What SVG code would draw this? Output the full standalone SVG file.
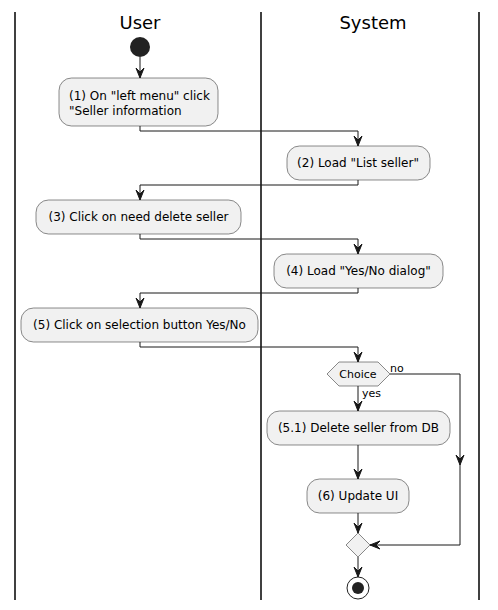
<svg xmlns="http://www.w3.org/2000/svg" width="498" height="610" viewBox="0 0 498 610">
<defs>
<style>
.lane{stroke:#000;stroke-width:1.5;fill:none}
.title{font-family:"DejaVu Sans",sans-serif;font-size:18px;fill:#000;text-anchor:middle}
.act rect{fill:#F1F1F1;stroke:#181818;stroke-width:0.5}
.act text{font-family:"DejaVu Sans",sans-serif;font-size:12px;fill:#000}
.c{text-anchor:middle}
.dec polygon{fill:#F1F1F1;stroke:#181818;stroke-width:0.5}
.lbl{font-family:"DejaVu Sans",sans-serif;font-size:11px;fill:#000}
.edge{stroke:#181818;stroke-width:1;fill:none}
.ah{fill:#181818;stroke:#181818;stroke-width:1}
</style>
</defs>
<rect width="498" height="610" fill="#fff"/>
<g id="lanes">
<line class="lane" x1="15" y1="12" x2="15" y2="600"/>
<line class="lane" x1="261" y1="12" x2="261" y2="600"/>
<line class="lane" x1="479" y1="12" x2="479" y2="600"/>
<text class="title" x="140" y="29">User</text>
<text class="title" x="373" y="29">System</text>
</g>
<g id="start"><circle cx="140" cy="47" r="10" fill="#222"/></g>
<g id="n1" class="act"><rect x="59" y="78" width="159" height="48" rx="12.5"/><text x="69" y="100">(1) On "left menu" click</text><text x="69" y="115">"Seller information</text></g>
<g id="n2" class="act"><rect x="287" y="146" width="143" height="34" rx="12.5"/><text class="c" x="358" y="167">(2) Load "List seller"</text></g>
<g id="n3" class="act"><rect x="36" y="200" width="205" height="34" rx="12.5"/><text class="c" x="138.5" y="221">(3) Click on need delete seller</text></g>
<g id="n4" class="act"><rect x="274" y="254" width="169" height="34" rx="12.5"/><text class="c" x="358.5" y="275">(4) Load "Yes/No dialog"</text></g>
<g id="n5" class="act"><rect x="21" y="308" width="237" height="34" rx="12.5"/><text class="c" x="139.5" y="329">(5) Click on selection button Yes/No</text></g>
<g id="choice" class="dec"><polygon points="327,374 339,362 378,362 390,374 378,386 339,386"/><text class="lbl" x="358" y="378" text-anchor="middle">Choice</text></g>
<g id="n51" class="act"><rect x="267" y="411" width="183" height="34" rx="12.5"/><text class="c" x="358.5" y="432">(5.1) Delete seller from DB</text></g>
<g id="n6" class="act"><rect x="307" y="479" width="102" height="34" rx="12.5"/><text class="c" x="358" y="500">(6) Update UI</text></g>
<g id="merge" class="dec"><polygon points="358,533 370,545 358,557 346,545"/></g>
<g id="end"><circle cx="358" cy="588" r="11" fill="none" stroke="#222" stroke-width="1"/><circle cx="358" cy="588" r="6" fill="#222"/></g>
<g id="connectors">
<path class="edge" d="M140,57 V78"/><polygon class="ah" points="136,68 140,78 144,68 140,72"/>
<path class="edge" d="M140,126 V131 H358 V146"/><polygon class="ah" points="354,136 358,146 362,136 358,140"/>
<path class="edge" d="M358,180 V185 H140 V200"/><polygon class="ah" points="136,190 140,200 144,190 140,194"/>
<path class="edge" d="M140,234 V239 H358 V254"/><polygon class="ah" points="354,244 358,254 362,244 358,248"/>
<path class="edge" d="M358,288 V293 H140 V308"/><polygon class="ah" points="136,298 140,308 144,298 140,302"/>
<path class="edge" d="M140,342 V347 H358 V362"/><polygon class="ah" points="354,352 358,362 362,352 358,356"/>
<path class="edge" d="M358,386 V411"/><polygon class="ah" points="354,401 358,411 362,401 358,405"/>
<text class="lbl" x="362" y="397">yes</text>
<path class="edge" d="M390,374 H460 V545 H370"/><polygon class="ah" points="456,455 460,465 464,455 460,459"/><polygon class="ah" points="380,541 370,545 380,549 376,545"/>
<text class="lbl" x="390" y="372">no</text>
<path class="edge" d="M358,445 V479"/><polygon class="ah" points="354,469 358,479 362,469 358,473"/>
<path class="edge" d="M358,513 V533"/><polygon class="ah" points="354,523 358,533 362,523 358,527"/>
<path class="edge" d="M358,557 V577"/><polygon class="ah" points="354,567 358,577 362,567 358,571"/>
</g>
</svg>
